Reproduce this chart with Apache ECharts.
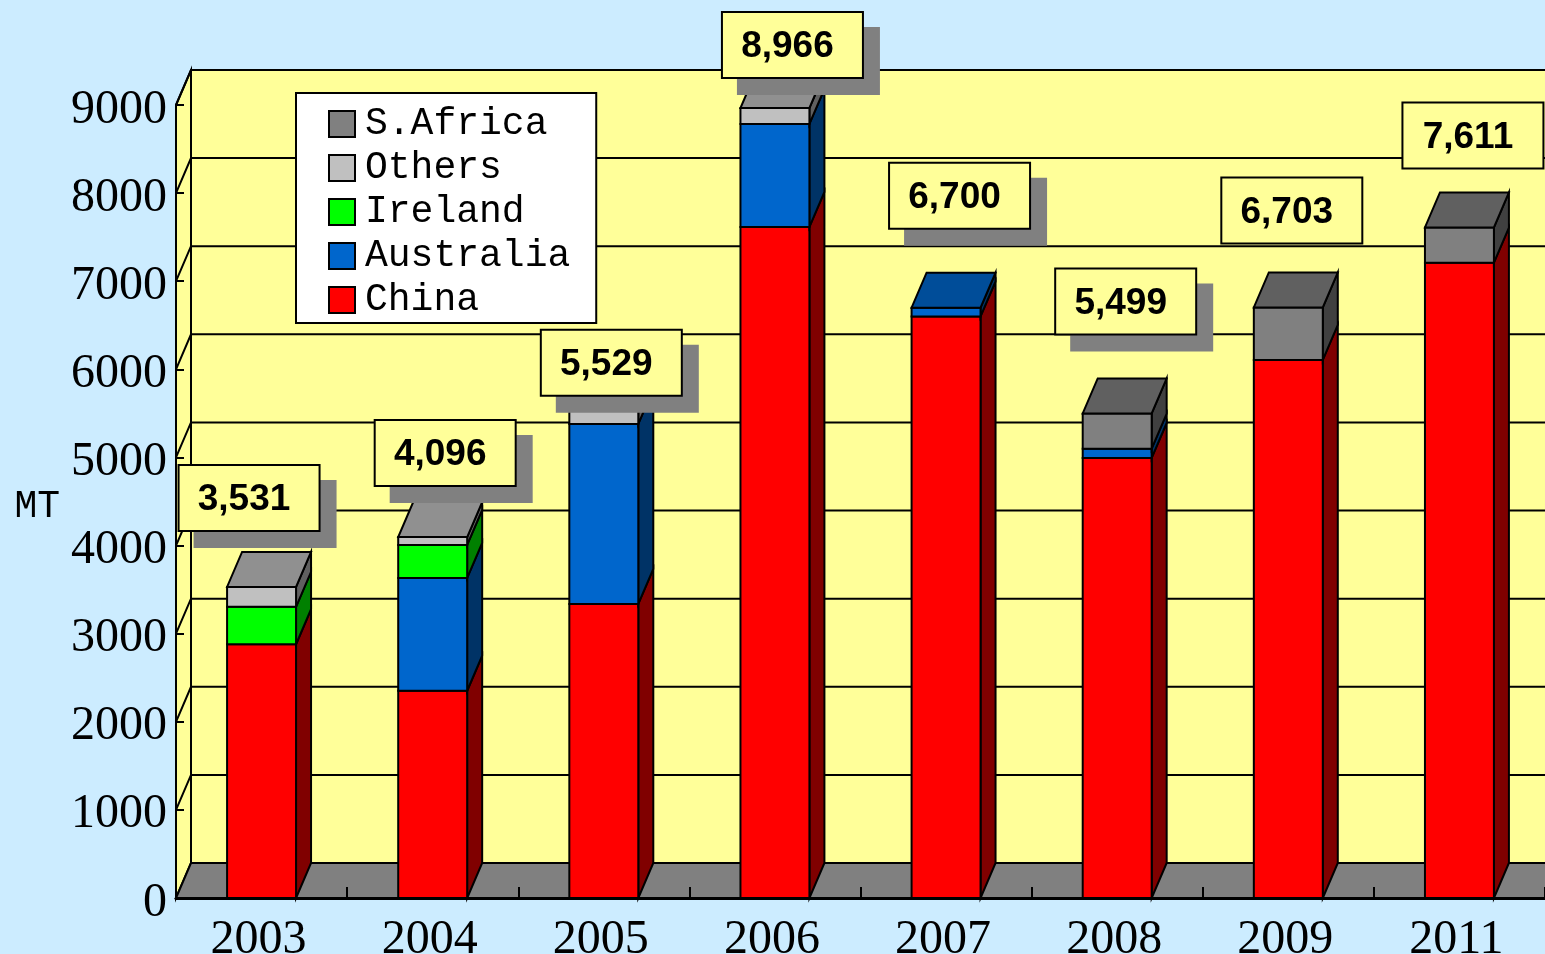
<!DOCTYPE html>
<html>
<head>
<meta charset="utf-8">
<style>
  html, body { margin: 0; padding: 0; background: #ccecff; }
  #chart { width: 1545px; height: 954px; }
</style>
<script src="https://cdn.jsdelivr.net/npm/echarts@6/dist/echarts.min.js"></script>
</head>
<body>
<div id="chart"></div>
<script>
const years = ['2003', '2004', '2005', '2006', '2007', '2008', '2009', '2011']
const yTicks = [1000, 2000, 3000, 4000, 5000, 6000, 7000, 8000, 9000]

const china = [2880, 2352, 3337, 7616, 6600, 4994, 6107, 7211]
const australia = [0, 1280, 2043, 1169, 100, 106, 0, 0]
const ireland = [425, 375, 0, 0, 0, 0, 0, 0]
const others = [226, 89, 149, 181, 0, 0, 0, 0]
const southAfrica = [0, 0, 0, 0, 0, 399, 596, 400]
const totals = [3531, 4096, 5529, 8966, 6700, 5499, 6703, 7611]

// hand placed callouts, offset from the top front centre of each bar
const calloutLeft = [-83, -58, -63, -53, -57, -62, -67, -57]
const calloutTop = [-122, -117, -81, -96, -145, -145, -130, -125]
const calloutShadow = [true, true, true, true, true, true, false, false]

const layers = [
  { name: 'China', values: china, front: '#ff0000', side: '#800000', top: '#bf0000' },
  { name: 'Australia', values: australia, front: '#0066cc', side: '#003366', top: '#004d99' },
  { name: 'Ireland', values: ireland, front: '#00ff00', side: '#008000', top: '#00bf00' },
  { name: 'Others', values: others, front: '#c0c0c0', side: '#606060', top: '#909090' },
  { name: 'S.Africa', values: southAfrica, front: '#808080', side: '#404040', top: '#606060' },
]

const depthX = 15
const depthY = -35
const barRatio = 0.403
const wallColor = '#ffff99'
const floorColor = '#808080'
const edge = { stroke: '#000', lineWidth: 2 }

function poly(points, fill, lineWidth) {
  return {
    type: 'polygon',
    shape: { points },
    style: { fill, stroke: '#000', lineWidth: lineWidth || edge.lineWidth },
  }
}

function renderWalls(params, api) {
  const box = params.coordSys
  const right = box.x + box.width + depthX
  const x0 = box.x
  const yBottom = api.coord([0, 0])[1]
  const yTop = api.coord([0, 9000])[1]
  return {
    type: 'group',
    children: [
      poly([[x0, yBottom], [x0 + depthX, yBottom + depthY], [x0 + depthX, yTop + depthY], [x0, yTop]], wallColor),
      poly([[x0 + depthX, yBottom + depthY], [right, yBottom + depthY], [right, yTop + depthY], [x0 + depthX, yTop + depthY]], wallColor),
      poly([[x0, yBottom], [x0 + depthX, yBottom + depthY], [right, yBottom + depthY], [right, yBottom]], floorColor),
    ],
  }
}

function renderGridLine(params, api) {
  const box = params.coordSys
  const y = api.coord([0, api.value(1)])[1]
  return {
    type: 'polyline',
    shape: {
      points: [
        [box.x, y],
        [box.x + depthX, y + depthY],
        [box.x + box.width + depthX, y + depthY],
      ],
    },
    style: { fill: null, stroke: '#000', lineWidth: edge.lineWidth },
  }
}

function renderBarLayer(layer) {
  return (params, api) => {
    const i = api.value(0)
    const low = api.value(1)
    const high = api.value(2)
    if (high <= low) return null
    const cx = api.coord([i, 0])[0]
    const w = api.size([1, 0])[0] * barRatio
    const x1 = cx - w / 2
    const x2 = cx + w / 2
    const y1 = api.coord([i, low])[1]
    const y2 = api.coord([i, high])[1]
    const children = [
      poly([[x2, y1], [x2 + depthX, y1 + depthY], [x2 + depthX, y2 + depthY], [x2, y2]], layer.side),
      poly([[x1, y1], [x2, y1], [x2, y2], [x1, y2]], layer.front),
    ]
    if (api.value(3)) {
      children.push(poly([[x1, y2], [x2, y2], [x2 + depthX, y2 + depthY], [x1 + depthX, y2 + depthY]], layer.top))
    }
    return { type: 'group', children }
  }
}

function renderCallout(params, api) {
  const i = api.value(0)
  const total = api.value(1)
  const p = api.coord([i, total])
  const w = 141
  const h = 66
  const x = p[0] + calloutLeft[i]
  const y = p[1] + calloutTop[i]
  const children = []
  if (calloutShadow[i]) {
    children.push({
      type: 'rect',
      shape: { x: x + 15, y: y + 15, width: w + 2, height: h + 2 },
      style: { fill: '#808080' },
    })
  }
  children.push({
    type: 'rect',
    shape: { x, y, width: w, height: h },
    style: { fill: wallColor, stroke: '#000', lineWidth: 2 },
  })
  children.push({
    type: 'text',
    x: x + w / 2 - 5,
    y: y + h / 2 + 2,
    style: {
      text: total.toLocaleString('en-US'),
      fill: '#000',
      font: 'bold 37px "Liberation Sans"',
      textAlign: 'center',
      textVerticalAlign: 'middle',
    },
  })
  return { type: 'group', children }
}

// stack the layers, only the highest non zero layer of a bar gets a top face
const barSeries = layers.map((layer, n) => ({
  type: 'custom',
  name: layer.name,
  z: 3,
  silent: true,
  color: layer.front,
  itemStyle: { color: layer.front },
  encode: { x: 0, y: [1, 2] },
  renderItem: renderBarLayer(layer),
  data: years.map((year, i) => {
    let low = 0
    for (let k = 0; k < n; k++) low += layers[k].values[i]
    const high = low + layer.values[i]
    const above = layers.slice(n + 1).some((l) => l.values[i] > 0)
    return [i, low, high, above ? 0 : 1]
  }),
}))

const option = {
  backgroundColor: '#ccecff',
  animation: false,
  grid: { left: 176, top: 105, width: 1369, bottom: 56, outerBoundsMode: 'none' },
  legend: {
    left: 296,
    top: 93,
    orient: 'vertical',
    data: ['S.Africa', 'Others', 'Ireland', 'Australia', 'China'],
    selectedMode: false,
    backgroundColor: '#fff',
    borderColor: '#000',
    borderWidth: 2,
    padding: [12, 26, 4, 32],
    itemWidth: 26,
    itemHeight: 26,
    itemGap: 6,
    icon: 'rect',
    itemStyle: { borderColor: '#000', borderWidth: 2 },
    textStyle: {
      fontFamily: 'Liberation Mono',
      fontSize: 38,
      color: '#000',
      padding: [0, 0, 0, 5],
    },
    z: 8,
  },
  xAxis: {
    type: 'category',
    data: years,
    z: 4,
    axisLine: { lineStyle: { color: '#000', width: 3 } },
    axisTick: { show: true, inside: true, length: 11, lineStyle: { color: '#000', width: 2 } },
    axisLabel: {
      interval: 0,
      margin: 18,
      color: '#000',
      fontFamily: 'Liberation Serif',
      fontSize: 48,
      padding: [0, 6, 0, 0],
    },
  },
  yAxis: {
    type: 'value',
    min: 0,
    max: 9000,
    interval: 1000,
    z: 4,
    name: 'MT',
    nameLocation: 'middle',
    nameRotate: 0,
    nameGap: 116,
    nameTextStyle: { fontFamily: 'Liberation Mono', fontSize: 38, color: '#000', verticalAlign: 'top', lineHeight: 10 },
    splitLine: { show: false },
    axisLine: { show: true, lineStyle: { color: '#000', width: 2 } },
    axisTick: { show: true, inside: true, length: 8, lineStyle: { color: '#000', width: 2 } },
    axisLabel: {
      margin: 9,
      color: '#000',
      fontFamily: 'Liberation Serif',
      fontSize: 48,
      verticalAlign: 'top',
      lineHeight: 10,
      formatter: (v) => String(v),
    },
  },
  series: [
    { type: 'custom', z: 1, silent: true, renderItem: renderWalls, data: [[0, 0]] },
    {
      type: 'custom',
      z: 2,
      silent: true,
      renderItem: renderGridLine,
      encode: { x: 0, y: 1 },
      data: yTicks.map((t) => [0, t]),
    },
    ...barSeries,
    {
      type: 'custom',
      z: 10,
      silent: true,
      renderItem: renderCallout,
      encode: { x: 0, y: 1 },
      data: totals.map((t, i) => [i, t]),
    },
  ],
}

const chart = echarts.init(document.getElementById('chart'))
chart.setOption(option)
</script>
</body>
</html>
